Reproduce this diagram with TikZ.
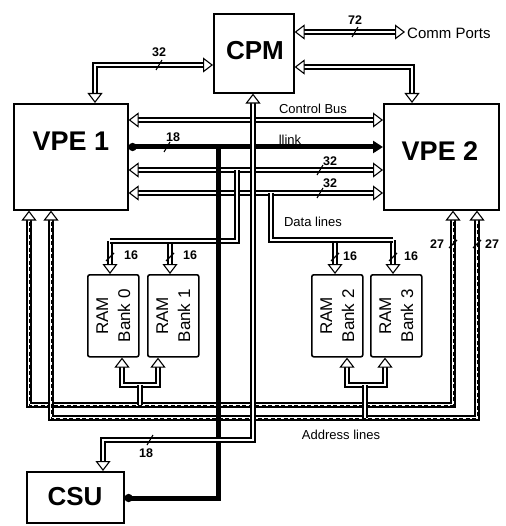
\documentclass[tikz,border=0pt]{standalone}
\usepackage{fontspec}
\setmainfont{Liberation Sans}
\usetikzlibrary{arrows.meta}
\tikzset{
  bt/.tip={Triangle[fill=white,width=15pt,length=10pt,line width=1.1pt]},
  blk/.style={draw, line width=1.6pt, inner sep=0pt, anchor=north west},
  rambox/.style={blk, rounded corners=2pt, minimum width=51pt, minimum height=82pt},
  bigtxt/.style={font=\fontsize{26}{26}\selectfont\bfseries},
  ramtxt/.style={rotate=90, align=center, font=\fontsize{17}{22}\selectfont},
  bus/.style={draw, line width=1.4pt, double, double distance=2.8pt},
  addrdash/.style={draw, line width=1pt, dash pattern=on 4pt off 2.5pt},
  linkline/.style={draw, line width=5pt},
  tk/.style={draw, line width=1.1pt},
  num/.style={font=\fontsize{12.5}{12.5}\selectfont\bfseries, inner sep=0pt},
  lbl/.style={font=\fontsize{13}{13}\selectfont, inner sep=0pt},
}
\begin{document}
\begin{tikzpicture}[x=1pt,y=-1pt]
\useasboundingbox (0,0) rectangle (505,526);
% boxes
\node[blk, minimum width=80pt, minimum height=79pt] (cpm) at (213,13) {};
\node[bigtxt] (cpmt) at (255,51) {CPM};
\node[blk, minimum width=114pt, minimum height=106pt] (vpe1) at (13,103) {};
\node[bigtxt, font=\fontsize{27}{27}\selectfont\bfseries] (vpe1t) at (71,141) {VPE 1};
\node[blk, minimum width=115pt, minimum height=106pt] (vpe2) at (383,103) {};
\node[bigtxt, font=\fontsize{27}{27}\selectfont\bfseries] (vpe2t) at (440,151) {VPE 2};
\node[blk, minimum width=97pt, minimum height=51pt] (csu) at (26,471) {};
\node[bigtxt] (csut) at (75,497) {CSU};
\node[rambox] (ram0) at (87,274) {};
\node[ramtxt] (ram0t) at (ram0.center) {RAM\\Bank 0};
\node[rambox] (ram1) at (147,274) {};
\node[ramtxt] (ram1t) at (ram1.center) {RAM\\Bank 1};
\node[rambox] (ram2) at (311,274) {};
\node[ramtxt] (ram2t) at (ram2.center) {RAM\\Bank 2};
\node[rambox] (ram3) at (370,274) {};
\node[ramtxt] (ram3t) at (ram3.center) {RAM\\Bank 3};
\coordinate (comm) at (405,32);
\node[anchor=west, inner sep=0pt, font=\fontsize{15}{15}\selectfont] (commt) at (407,33) {Comm Ports};

% address lines
\draw[bus, bt-bt] (vpe1.south -| 29,0) -- (29,405) -- (453,405) -- (vpe2.south -| 453,0);
\draw[addrdash, shorten <=11pt, shorten >=11pt] (vpe1.south -| 29,0) -- (29,405) -- (453,405) -- (vpe2.south -| 453,0);
\draw[bus, bt-bt] (vpe1.south -| 51,0) -- (51,418) -- (477,418) -- (vpe2.south -| 477,0);
\draw[addrdash, shorten <=11pt, shorten >=11pt] (vpe1.south -| 51,0) -- (51,418) -- (477,418) -- (vpe2.south -| 477,0);
% RAM address forks
\draw[bus, -bt] (140,385) -- (122,385) -- (ram0.south -| 122,0);
\draw[bus, -bt] (140,385) -- (158,385) -- (ram1.south -| 158,0);
\draw[bus] (140,405) -- (140,385);
\draw[bus, -bt] (365,385) -- (347,385) -- (ram2.south -| 347,0);
\draw[bus, -bt] (365,385) -- (385,385) -- (ram3.south -| 385,0);
\draw[bus] (365,418) -- (365,385);

% CPM to VPEs and comm ports
\draw[bus, bt-bt] (cpm.west |- 0,65) -- (95,65) -- (vpe1.north -| 95,0);
\draw[bus, bt-bt] (cpm.east |- 0,67) -- (412,67) -- (vpe2.north -| 412,0);
\draw[bus, bt-bt] (cpm.east |- 0,32) -- (comm);

% data buses
\draw[bus, bt-bt] (vpe1.east |- 0,170) -- (vpe2.west |- 0,170);
\draw[bus, bt-bt] (vpe1.east |- 0,193) -- (vpe2.west |- 0,193);
\draw[bus, -bt] (110,241) -- (ram0.north -| 110,0);
\draw[bus, -bt] (170,241) -- (ram1.north -| 170,0);
\draw[bus] (237,170) -- (237,241) -- (110,241);
\draw[bus, -bt] (393,240) -- (ram3.north -| 393,0);
\draw[bus, -bt] (335,240) -- (ram2.north -| 335,0);
\draw[bus] (271,193) -- (271,240) -- (393,240);

% link (thick)
\draw[linkline, {Circle[length=8pt]}-{Triangle[width=12pt,length=10pt]}] (vpe1.east |- 0,147) -- (vpe2.west |- 0,147);
\draw[linkline, -{Circle[length=8pt]}] (218,147) -- (218,498) -- (csu.east |- 0,498);

% control bus and CPM-CSU
\draw[bus, bt-bt] (vpe1.east |- 0,120) -- (vpe2.west |- 0,120);
\draw[bus, bt-bt] (cpm.south -| 253,0) -- (253,440) -- (103,440) -- (csu.north -| 103,0);

% ticks
\draw[tk] (156,70) -- (162,60);
\draw[tk] (352,37) -- (358,27);
\draw[tk] (164,152) -- (170,142);
\draw[tk] (147,445) -- (153,435);
\draw[tk] (317,175) -- (323,165);
\draw[tk] (317,198) -- (323,188);
\draw[tk] (106,261) -- (114,253);
\draw[tk] (166,261) -- (174,253);
\draw[tk] (331,261) -- (339,253);
\draw[tk] (389,261) -- (397,253);
\draw[tk] (449,248) -- (457,240);
\draw[tk] (473,248) -- (481,240);

% labels
\node[num] (l32a) at (159,52) {32};
\node[num] (l72) at (355,20) {72};
\node[num] (l18a) at (173,137) {18};
\node[num] (l18b) at (146,453) {18};
\node[num] (l32b) at (330,161) {32};
\node[num] (l32c) at (330,183) {32};
\node[num] (l16a) at (131,255) {16};
\node[num] (l16b) at (190,255) {16};
\node[num] (l16c) at (350,256) {16};
\node[num] (l16d) at (411,256) {16};
\node[num] (l27a) at (437,244) {27};
\node[num] (l27b) at (492,244) {27};
\node[lbl] (cbus) at (313,109) {Control Bus};
\node[lbl] (lnk) at (290,140) {llink};
\node[lbl] (dlines) at (313,222) {Data lines};
\node[lbl] (alines) at (341,435) {Address lines};
\end{tikzpicture}
\end{document}
